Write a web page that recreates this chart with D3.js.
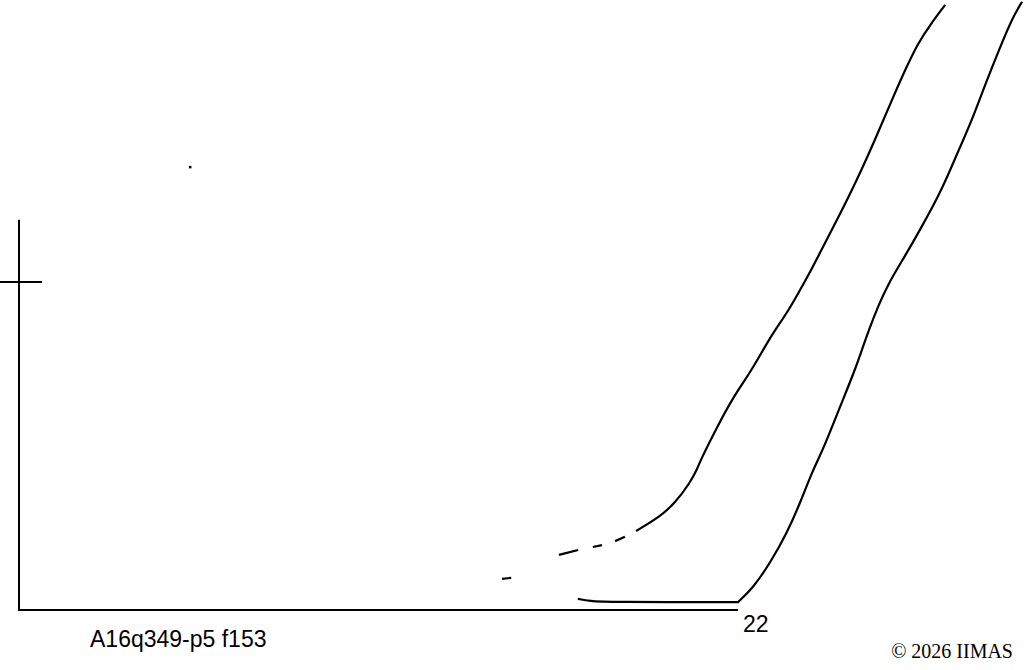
<!DOCTYPE html>
<html>
<head>
<meta charset="utf-8">
<script src="https://cdn.jsdelivr.net/npm/d3@7"></script>
<style>
  body { margin: 0; background: #fff; }
  svg { display: block; }
</style>
</head>
<body>
<script>
// sketch values, in axis units
const xMax = 22;
const yTick = 10;
const yTop = 11.9;

const upperCurve = [
    [18.88, 2.41], [19.61, 2.84], [20.07, 3.26], [20.53, 3.87], [20.78, 4.36],
    [20.84, 4.54], [21.36, 5.58], [21.85, 6.49], [22.43, 7.32], [22.98, 8.32],
    [23.50, 9.05], [23.90, 9.76], [24.29, 10.46], [24.60, 11.07], [25.03, 11.89],
    [25.64, 13.11], [26.19, 14.33], [26.71, 15.55], [27.11, 16.46], [27.51, 17.29],
    [27.88, 17.84], [28.34, 18.45]
];

const upperDashes = [
    [[14.78, 0.95], [15.06, 0.98]],
    [[16.52, 1.68], [17.11, 1.83]],
    [[17.56, 1.92], [17.84, 1.98]],
    [[18.24, 2.10], [18.54, 2.23]]
];

// the corner at 22 is listed three times so the smoothing keeps it sharp
const lowerCurve = [
    [17.10, 0.34], [17.47, 0.27], [17.99, 0.24], [22.00, 0.24], [22.00, 0.24],
    [22.00, 0.24], [22.46, 0.67], [22.98, 1.43], [23.50, 2.35], [23.90, 3.26],
    [24.29, 4.27], [24.60, 4.88], [25.12, 6.19], [25.58, 7.32], [25.79, 7.93],
    [26.04, 8.63], [26.28, 9.24], [26.59, 9.94], [27.11, 10.79], [27.57, 11.59],
    [28.18, 12.71], [28.49, 13.41], [28.85, 14.24], [29.16, 14.94], [29.56, 16.01],
    [30.02, 17.16], [30.41, 18.08], [30.69, 18.54]
];

const strayDot = [5.23, 13.51];

const caseLabel = "A16q349-p5 f153";
const credit = "\u00a9 2026 IIMAS";

const options = {
    width: 1024,
    height: 670,
}

let svg = d3.select("body")
    .append("svg")
    .attr("width", options.width)
    .attr("height", options.height)

const x = d3.scaleLinear().domain([0, xMax]).range([19, 738]);
const y = d3.scaleLinear().domain([0, yTick]).range([610, 282]);

const line = d3.line()
    .x(d => x(d[0]))
    .y(d => y(d[1]))
    .curve(d3.curveBasis);

let frame = svg.append("g")
    .attr("stroke", "#000")
    .attr("stroke-width", 2)
    .attr("fill", "none")

// vertical axis
frame.append("line")
    .attr("x1", x(0)).attr("x2", x(0))
    .attr("y1", y(yTop)).attr("y2", y(0) + 1)

// horizontal axis
frame.append("line")
    .attr("x1", x(0)).attr("x2", x(xMax))
    .attr("y1", y(0)).attr("y2", y(0))

// the one tick cross
frame.append("line")
    .attr("x1", 0).attr("x2", x(0) + 23)
    .attr("y1", y(yTick)).attr("y2", y(yTick))

let curves = svg.append("g")
    .attr("stroke", "#000")
    .attr("stroke-width", 2.2)
    .attr("fill", "none")
    .attr("stroke-linecap", "butt")
    .attr("stroke-linejoin", "round")

curves.append("path")
    .attr("d", line(upperCurve))

curves.selectAll(".dash")
    .data(upperDashes)
    .enter()
    .append("path")
    .attr("class", "dash")
    .attr("d", d => line(d))

curves.append("path")
    .attr("d", line(lowerCurve))

svg.append("rect")
    .attr("x", x(strayDot[0]) - 1)
    .attr("y", y(strayDot[1]) - 1)
    .attr("width", 2.5)
    .attr("height", 2.5)
    .attr("fill", "#000")

svg.append("text")
    .attr("x", x(xMax) + 5)
    .attr("y", 632)
    .style("font-family", "'Liberation Sans', Arial, sans-serif")
    .style("font-size", "23px")
    .text(xMax)

svg.append("text")
    .attr("x", 90)
    .attr("y", 647)
    .style("font-family", "'Liberation Sans', Arial, sans-serif")
    .style("font-size", "23px")
    .text(caseLabel)

svg.append("text")
    .attr("x", 1013)
    .attr("y", 658)
    .attr("text-anchor", "end")
    .style("font-family", "'Liberation Serif', 'Times New Roman', serif")
    .style("font-size", "20px")
    .text(credit)
</script>
</body>
</html>
